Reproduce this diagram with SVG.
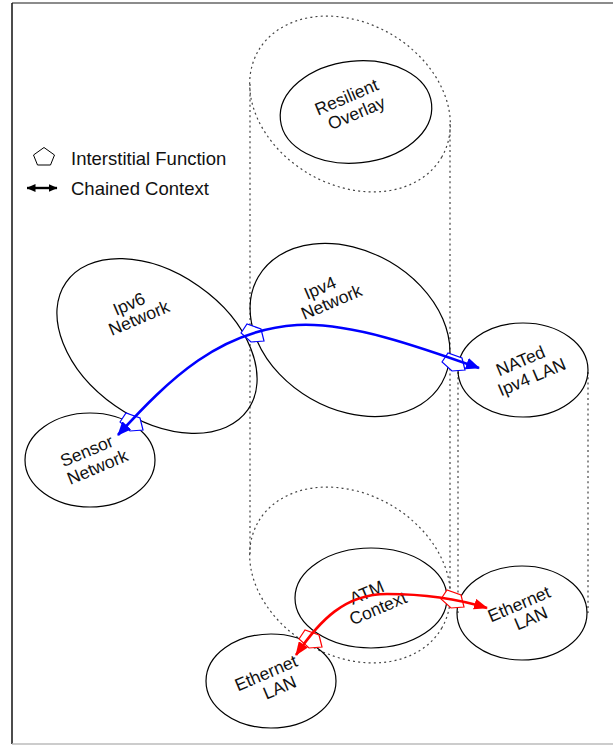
<svg xmlns="http://www.w3.org/2000/svg" width="613" height="745" viewBox="0 0 613 745">
<style>
.dot{fill:none;stroke:#444;stroke-width:1.2;stroke-dasharray:2 3.2}
.node{fill:none;stroke:#000;stroke-width:1.2}
.lbl{font-family:"Liberation Sans",Arial,Helvetica,sans-serif;font-size:17.5px;fill:#111;text-anchor:middle}
.leg{font-family:"Liberation Sans",Arial,Helvetica,sans-serif;font-size:18.5px;fill:#111}
.ifb{fill:#fff;stroke:#00f;stroke-width:1.2}
.ifr{fill:#fff;stroke:#f00;stroke-width:1.2}
</style>
<defs>
<marker id="ahB" viewBox="0 0 14 12" refX="13" refY="6" markerWidth="14" markerHeight="12" markerUnits="userSpaceOnUse" orient="auto-start-reverse"><path d="M0,0 L14,6 L0,12 z" fill="#00f"/></marker>
<marker id="ahR" viewBox="0 0 14 11" refX="13" refY="5.5" markerWidth="14" markerHeight="11" markerUnits="userSpaceOnUse" orient="auto-start-reverse"><path d="M0,0 L14,5.5 L0,11 z" fill="#f00"/></marker>
<marker id="ahK" viewBox="0 0 9 8" refX="8.5" refY="4" markerWidth="9" markerHeight="8" markerUnits="userSpaceOnUse" orient="auto-start-reverse"><path d="M0,0 L9,4 L0,8 z" fill="#000"/></marker>
<polygon id="pent" points="-11,0 -5,-9 9,-4 12,8 -1,9"/>
</defs>
<rect width="613" height="745" fill="#fff"/>
<g id="frame">
<line x1="12" y1="3" x2="613" y2="3" stroke="#666" stroke-width="1.5"/>
<line x1="12" y1="3" x2="12" y2="744" stroke="#111" stroke-width="1.5"/>
<line x1="12" y1="744" x2="613" y2="744" stroke="#bbb" stroke-width="1.5"/>
</g>
<g id="tubes">
<ellipse class="dot" cx="350" cy="104" rx="106" ry="81" transform="rotate(30 350 104)"/>
<ellipse class="dot" cx="350" cy="575" rx="106" ry="81" transform="rotate(30 350 575)"/>
<line class="dot" x1="250" y1="84" x2="250" y2="555"/>
<line class="dot" x1="450" y1="124" x2="450" y2="595"/>
<line class="dot" x1="458" y1="372" x2="458" y2="613"/>
<line class="dot" x1="588" y1="372" x2="588" y2="613"/>
</g>
<g id="legend">
<polygon points="44,147.5 54.5,155 50.5,165 37.5,165 33.5,155" fill="#fff" stroke="#000" stroke-width="1"/>
<text class="leg" x="71" y="165">Interstitial Function</text>
<line x1="27" y1="188" x2="57" y2="188" stroke="#000" stroke-width="2.4" marker-start="url(#ahK)" marker-end="url(#ahK)"/>
<text class="leg" x="71" y="195">Chained Context</text>
</g>
<g id="node-resilient">
<ellipse class="node" cx="356" cy="112" rx="76" ry="51" transform="rotate(-6 356 112)"/>
<text class="lbl" transform="translate(346.5,97) rotate(-23)" y="6">Resilient</text>
<text class="lbl" transform="translate(356.5,113) rotate(-23)" y="6">Overlay</text>
</g>
<g id="node-ipv6">
<ellipse class="node" cx="157" cy="346" rx="111" ry="73" transform="rotate(35 157 346)"/>
<text class="lbl" transform="translate(129,304) rotate(-23)" y="6">Ipv6</text>
<text class="lbl" transform="translate(139,318) rotate(-23)" y="6">Network</text>
</g>
<g id="node-ipv4">
<ellipse class="node" cx="350" cy="330" rx="106" ry="79" transform="rotate(30 350 330)"/>
<text class="lbl" transform="translate(320,288) rotate(-23)" y="6">Ipv4</text>
<text class="lbl" transform="translate(331.5,302) rotate(-23)" y="6">Network</text>
</g>
<g id="node-nated">
<ellipse class="node" cx="523" cy="370" rx="65" ry="47"/>
<text class="lbl" transform="translate(520.5,361) rotate(-23)" y="6">NATed</text>
<text class="lbl" transform="translate(531.7,377) rotate(-23)" y="6">Ipv4 LAN</text>
</g>
<g id="node-sensor">
<ellipse class="node" cx="90" cy="460" rx="65" ry="47"/>
<text class="lbl" transform="translate(86.7,451) rotate(-23)" y="6">Sensor</text>
<text class="lbl" transform="translate(97.5,467) rotate(-23)" y="6">Network</text>
</g>
<g id="node-atm">
<ellipse class="node" cx="371" cy="598" rx="76" ry="50"/>
<text class="lbl" transform="translate(366.7,592.5) rotate(-23)" y="6">ATM</text>
<text class="lbl" transform="translate(378,608.3) rotate(-23)" y="6">Context</text>
</g>
<g id="node-eth-right">
<ellipse class="node" cx="522" cy="613" rx="65" ry="47"/>
<text class="lbl" transform="translate(519,604) rotate(-23)" y="6">Ethernet</text>
<text class="lbl" transform="translate(530.8,618.3) rotate(-23)" y="6">LAN</text>
</g>
<g id="node-eth-left">
<ellipse class="node" cx="271" cy="681" rx="65" ry="47"/>
<text class="lbl" transform="translate(266,673) rotate(-23)" y="6">Ethernet</text>
<text class="lbl" transform="translate(279.5,687.5) rotate(-23)" y="6">LAN</text>
</g>
<g id="connectors">
<use href="#pent" class="ifb" transform="translate(131,422)"/>
<use href="#pent" class="ifb" transform="translate(252,333)"/>
<use href="#pent" class="ifb" transform="translate(453,362)"/>
<use href="#pent" class="ifr" transform="translate(310,639)"/>
<use href="#pent" class="ifr" transform="translate(452,599)"/>
<path d="M118,435 C170,378 220,330 297,325 C350,322 420,347 479,368" fill="none" stroke="#00f" stroke-width="2.6" marker-start="url(#ahB)" marker-end="url(#ahB)"/>
<path d="M296,655 C320,620 345,594 387,594 C420,594 455,598 487,608" fill="none" stroke="#f00" stroke-width="2.6" marker-start="url(#ahR)" marker-end="url(#ahR)"/>
</g>
</svg>
